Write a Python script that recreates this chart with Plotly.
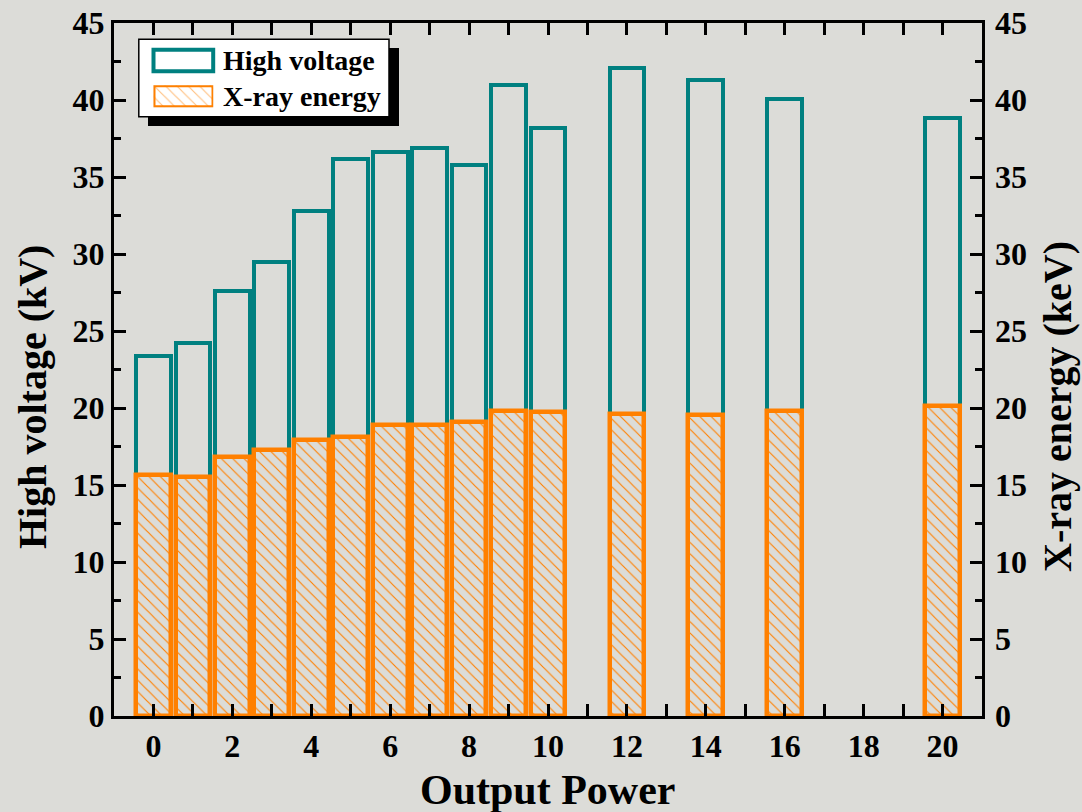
import plotly.graph_objects as go

# Output power levels and measured values
power = [0, 1, 2, 3, 4, 5, 6, 7, 8, 9, 10, 12, 14, 16, 20]
high_voltage_kv = [23.4, 24.2, 27.6, 29.5, 32.8, 36.15, 36.6, 36.9, 35.8, 41.0, 38.2, 42.1, 41.3, 40.05, 38.8]
xray_energy_kev = [15.65, 15.5, 16.8, 17.3, 17.95, 18.1, 18.9, 18.9, 19.1, 19.8, 19.75, 19.6, 19.55, 19.8, 20.1]

x_ticks = [0, 2, 4, 6, 8, 10, 12, 14, 16, 18, 20]
y_ticks = [0, 5, 10, 15, 20, 25, 30, 35, 40, 45]

TEAL = "#008080"
ORANGE = "#ff8000"
BG = "#dcdcd8"
FONT = "Liberation Serif"

W, H = 1082, 812
ML, MR, MT, MB = 114, 100, 23, 96
PW, PH = W - ML - MR, H - MT - MB


def px_x(px):
    return (px - ML) / PW


def px_y(py):
    return (H - MB - py) / PH


bar_w = 0.88
hatch = dict(shape="\\", fgcolor=ORANGE, bgcolor="rgba(0,0,0,0)",
             size=8, solidity=0.14, fillmode="replace")

fig = go.Figure()
fig.add_trace(go.Bar(
    x=power, y=high_voltage_kv, width=bar_w, name="High voltage",
    marker=dict(color="rgba(0,0,0,0)", line=dict(color=TEAL, width=4)),
    showlegend=False, xaxis="x", yaxis="y",
))
fig.add_trace(go.Bar(
    x=power, y=xray_energy_kev, width=bar_w, name="X-ray energy",
    marker=dict(color="rgba(0,0,0,0)", line=dict(color=ORANGE, width=4.5),
                pattern=hatch),
    showlegend=False, xaxis="x", yaxis="y2",
))

# hatched swatch for the legend, drawn as a small bar on an inset axis
sw_x0, sw_x1, sw_y0, sw_y1 = 153.5, 213.2, 85.3, 107.3
fig.add_trace(go.Bar(
    x=[0], y=[1], width=1, cliponaxis=False, showlegend=False, hoverinfo="skip",
    marker=dict(color="white", line=dict(color=ORANGE, width=4),
                pattern=dict(shape="\\", fgcolor=ORANGE, bgcolor="white",
                             size=8, solidity=0.14)),
    xaxis="x3", yaxis="y3",
))

tick_font = dict(family=FONT, size=32, color="black", weight="bold")
axis_common = dict(
    showline=True, linewidth=3, linecolor="black", mirror="allticks",
    ticks="inside", ticklen=12, tickwidth=3, tickcolor="black",
    showgrid=False, zeroline=False, tickfont=tick_font, automargin=False,
)

fig.update_layout(
    width=W, height=H,
    margin=dict(l=ML, r=MR, t=MT, b=MB, autoexpand=False),
    paper_bgcolor=BG, plot_bgcolor=BG,
    barmode="overlay", bargap=0,
    font=dict(family=FONT, color="black", weight="bold"),
    xaxis=dict(range=[-1, 21], tickvals=x_ticks,
               minor=dict(dtick=1, tick0=0, ticks="inside", ticklen=7,
                          tickwidth=3, tickcolor="black"),
               **axis_common),
    yaxis=dict(range=[0, 45], tickvals=y_ticks,
               minor=dict(dtick=2.5, tick0=0, ticks="inside", ticklen=7,
                          tickwidth=3, tickcolor="black"),
               **axis_common),
    yaxis2=dict(range=[0, 45], tickvals=y_ticks, overlaying="y", side="right",
                showline=False, showgrid=False, zeroline=False, ticks="",
                ticklabelstandoff=12, tickfont=tick_font, automargin=False),
    xaxis3=dict(domain=[px_x(sw_x0), px_x(sw_x1)], range=[-0.5, 0.5],
                visible=False, anchor="y3", automargin=False),
    yaxis3=dict(domain=[px_y(sw_y1), px_y(sw_y0)], range=[0, 1],
                visible=False, anchor="x3", automargin=False),
)

shapes = [
    # legend shadow and box
    dict(type="rect", xref="paper", yref="paper", layer="below",
         x0=px_x(148), x1=px_x(399), y0=px_y(126), y1=px_y(48),
         fillcolor="black", line=dict(width=0)),
    dict(type="rect", xref="paper", yref="paper", layer="below",
         x0=px_x(138.8), x1=px_x(389), y0=px_y(116.7), y1=px_y(39.3),
         fillcolor="white", line=dict(color="black", width=1.5)),
    # teal swatch
    dict(type="rect", xref="paper", yref="paper", layer="below",
         x0=px_x(153.5), x1=px_x(213.2), y0=px_y(71.3), y1=px_y(49.7),
         fillcolor="white", line=dict(color=TEAL, width=4)),
]
fig.update_layout(shapes=shapes)

side_title_font = dict(family=FONT, size=40, color="black", weight="bold")
bottom_title_font = dict(family=FONT, size=42, color="black", weight="bold")
legend_font = dict(family=FONT, size=28, color="black", weight="bold")
annotations = [
    dict(text="High voltage", x=px_x(221), y=px_y(60.5), xanchor="left",
         yanchor="middle", font=legend_font),
    dict(text="X-ray energy", x=px_x(221), y=px_y(96.5), xanchor="left",
         yanchor="middle", font=legend_font),
    dict(text="High voltage (kV)", x=px_x(32), y=px_y(397), textangle=-90,
         xanchor="center", yanchor="middle", font=side_title_font),
    dict(text="X-ray energy (keV)", x=px_x(1057), y=px_y(407), textangle=-90,
         xanchor="center", yanchor="middle", font=side_title_font),
    dict(text="Output Power", x=px_x(548), y=px_y(790),
         xanchor="center", yanchor="middle", font=bottom_title_font),
]
for a in annotations:
    a.update(xref="paper", yref="paper", showarrow=False)
fig.update_layout(annotations=annotations)

fig.write_html("out.html")
